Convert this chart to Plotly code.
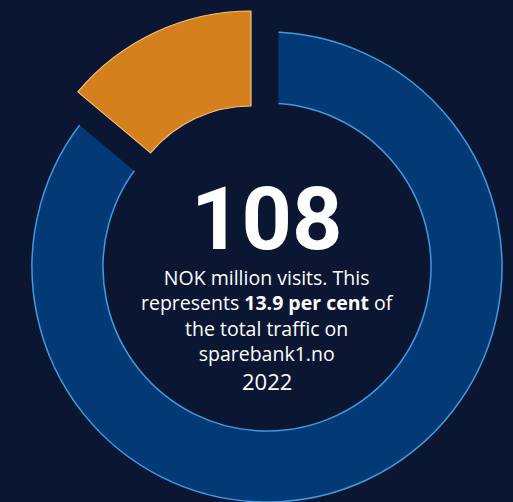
import plotly.graph_objects as go

# Share of sparebank1.no traffic (per cent), 2022
labels = ["Other sparebank1.no traffic", "Visits"]
shares = [86.1, 13.9]

headline_value = "108"
body_lines = [
    "NOK million visits. This",
    "represents <b>13.9 per cent</b> of",
    "the total traffic on",
    "sparebank1.no",
]
year_label = "2022"

BG = "#0b1632"
BLUE = "#033a75"
BLUE_EDGE = "#3f9be0"
ORANGE = "#d4801c"
ORANGE_EDGE = "#f3c184"
CLEAR = "rgba(0,0,0,0)"

W, H = 513, 502


def dom(cx, cy, r):
    """Pixel centre/radius -> paper domain (y measured from the top)."""
    return dict(
        x=[(cx - r) / W, (cx + r) / W],
        y=[(H - cy - r) / H, (H - cy + r) / H],
    )


fig = go.Figure()

# Main ring: the blue share, with the highlighted share cut out by a
# background-coloured outline so both cut edges get a clean gap.
fig.add_trace(go.Pie(
    labels=labels,
    values=shares,
    sort=False,
    direction="clockwise",
    rotation=0,
    hole=164 / 235,
    domain=dom(267, 267, 235),
    marker=dict(
        colors=[BLUE, CLEAR],
        line=dict(color=[BLUE_EDGE, BG], width=[1.5, 23]),
    ),
    textinfo="none",
    hoverinfo="skip",
    showlegend=False,
))

# Highlighted share, drawn as a detached, larger segment.
fig.add_trace(go.Pie(
    labels=labels,
    values=shares,
    sort=False,
    direction="clockwise",
    rotation=0,
    hole=131 / 226,
    domain=dom(251, 237, 226),
    marker=dict(
        colors=[CLEAR, ORANGE],
        line=dict(color=[CLEAR, ORANGE_EDGE], width=[0, 1.2]),
    ),
    textinfo="none",
    hoverinfo="skip",
    showlegend=False,
))

TXT = "Open Sans, Noto Sans, sans-serif"


def ypos(px):
    return 1 - px / H


annotations = [
    dict(
        text=f"<b>{headline_value}</b>",
        x=266 / W, y=ypos(218),
        font=dict(family="Roboto, sans-serif", size=88, color="white"),
    ),
    dict(
        text="<br>".join(body_lines),
        x=267 / W, y=ypos(315),
        font=dict(family=TXT, size=19.5, color="white"),
    ),
    dict(
        text=year_label,
        x=267 / W, y=ypos(381),
        font=dict(family=TXT, size=22, color="white"),
    ),
]
for a in annotations:
    a.update(xref="paper", yref="paper", showarrow=False,
             xanchor="center", yanchor="middle", align="center")

fig.update_layout(
    width=W, height=H,
    margin=dict(l=0, r=0, t=0, b=0),
    paper_bgcolor=BG,
    plot_bgcolor=BG,
    annotations=annotations,
)

fig.write_html("out.html")
